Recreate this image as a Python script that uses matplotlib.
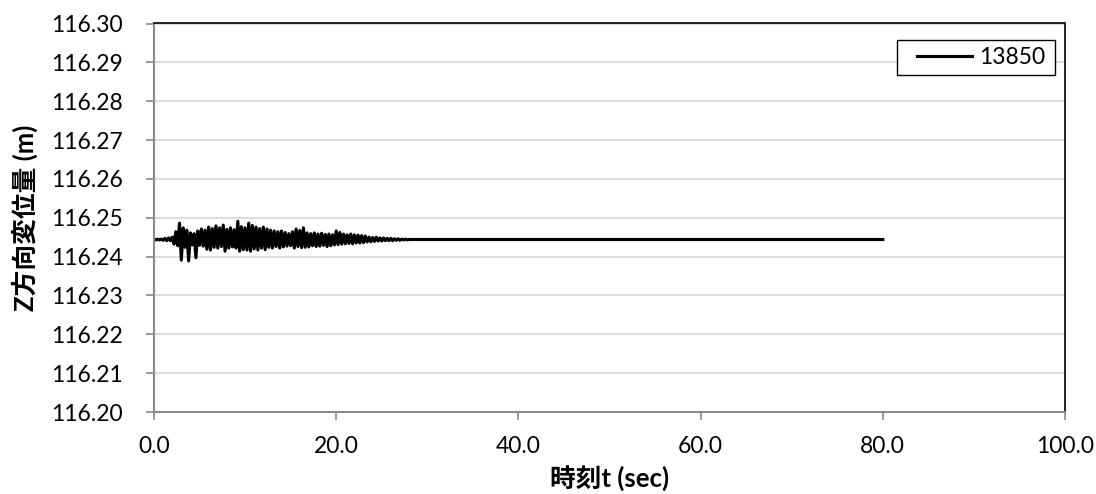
import numpy as np
import matplotlib
matplotlib.use('Agg')
import matplotlib.pyplot as plt
from matplotlib.patches import Rectangle

# series data
base_z = 116.2444          # resting level (m)
step_t = 0.2               # spacing of the read extrema (sec)
# deviation from resting level at each read point, mm
dz_mm = [
    0.1, -0.1, 0.1, -0.1, 0.1, -0.2, 0.3, -0.3, 0.4, -0.3,
    0.6, -1.2, 2.0, -1.6, 4.2, -5.3, 3.0, -2.0, 2.4, -5.5,
    1.7, -1.4, 1.5, -4.7, 2.2, -1.5, 2.7, -1.7, 2.4, -2.5,
    3.2, -2.7, 2.8, -2.0, 3.5, -2.2, 3.0, -1.8, 3.7, -3.0,
    2.6, -2.2, 3.0, -1.9, 2.5, -2.2, 4.7, -3.0, 3.3, -2.6,
    3.0, -2.7, 4.2, -3.0, 3.6, -2.4, 3.2, -2.7, 2.8, -2.2,
    3.2, -2.6, 2.7, -2.0, 2.4, -2.2, 2.2, -1.8, 2.0, -2.2,
    2.2, -1.9, 1.8, -1.7, 1.5, -1.6, 2.0, -2.2, 2.7, -1.8,
    2.3, -2.1, 3.0, -2.0, 1.7, -1.9, 1.5, -1.6, 1.7, -1.8,
    1.4, -1.7, 1.6, -1.5, 1.3, -1.8, 1.4, -1.6, 1.2, -1.4,
    2.2, -1.3, 1.8, -1.2, 1.4, -1.1, 1.2, -1.0, 1.4, -1.1,
    1.2, -0.9, 1.1, -0.9, 1.0, -0.8, 0.9, -0.6, 0.6, -0.6,
    0.5, -0.5, 0.6, -0.4, 0.4, -0.4, 0.4, -0.3, 0.3, -0.3,
    0.3, -0.3, 0.2, -0.2, 0.2, -0.2, 0.1, -0.1, 0.1, -0.1,
    0.0,
]
t_end = 80.0
series_name = '13850'

x_ticks = [0, 20, 40, 60, 80, 100]
y_ticks = [116.20, 116.21, 116.22, 116.23, 116.24, 116.25,
           116.26, 116.27, 116.28, 116.29, 116.30]

t = np.arange(len(dz_mm)) * step_t
t = np.append(t, t_end)
z = base_z + np.append(dz_mm, 0.0) / 1000.0

plt.rcParams['font.family'] = ['Lato', 'Noto Sans CJK JP', 'DejaVu Sans']

fig = plt.figure(figsize=(10.96, 4.94), dpi=100)
ax = fig.add_axes([154 / 1096, 82 / 494, 911 / 1096, 388.5 / 494])

ax.plot(t, z, color='black', lw=2.25, label=series_name)

ax.set_xlim(0, 100)
ax.set_ylim(116.20, 116.30)
ax.set_xticks(x_ticks)
ax.set_xticklabels([f'{v:.1f}' for v in x_ticks])
ax.set_yticks(y_ticks)
ax.set_yticklabels([f'{v:.2f}' for v in y_ticks])

ax.yaxis.grid(True, color='#d9d9d9', lw=1.3)
ax.set_axisbelow(True)

for side in ('left', 'bottom'):
    ax.spines[side].set_color('#898989')
    ax.spines[side].set_linewidth(1.5)
for side in ('top', 'right'):
    ax.spines[side].set_color('black')
    ax.spines[side].set_linewidth(1.2)

ax.tick_params(axis='both', direction='out', length=5.5, width=1.2,
               color='#898989', labelsize=16.5, labelcolor='black')
ax.tick_params(axis='y', pad=17)
ax.tick_params(axis='x', pad=12)

ax.set_ylabel('Z方向変位量 (m)', fontsize=18.5, fontweight='bold')
ax.set_xlabel('時刻t (sec)', fontsize=18.5, fontweight='bold')
ax.yaxis.set_label_coords(-0.127, 0.5)
ax.xaxis.set_label_coords(0.5, -0.14)

# legend: frame drawn separately so its padding matches the reference
ax.add_patch(Rectangle((0.8156, 0.8674), 0.1734, 0.0901, transform=ax.transAxes,
                       facecolor='white', edgecolor='black', lw=1.0,
                       zorder=5, clip_on=False))
leg = ax.legend(loc='center left', bbox_to_anchor=(0.8375, 0.9125),
                borderaxespad=0, borderpad=0, fontsize=16.5, frameon=False,
                handlelength=2.4, handletextpad=0.3)
leg.set_zorder(6)

fig.savefig('out.png', dpi=100)
